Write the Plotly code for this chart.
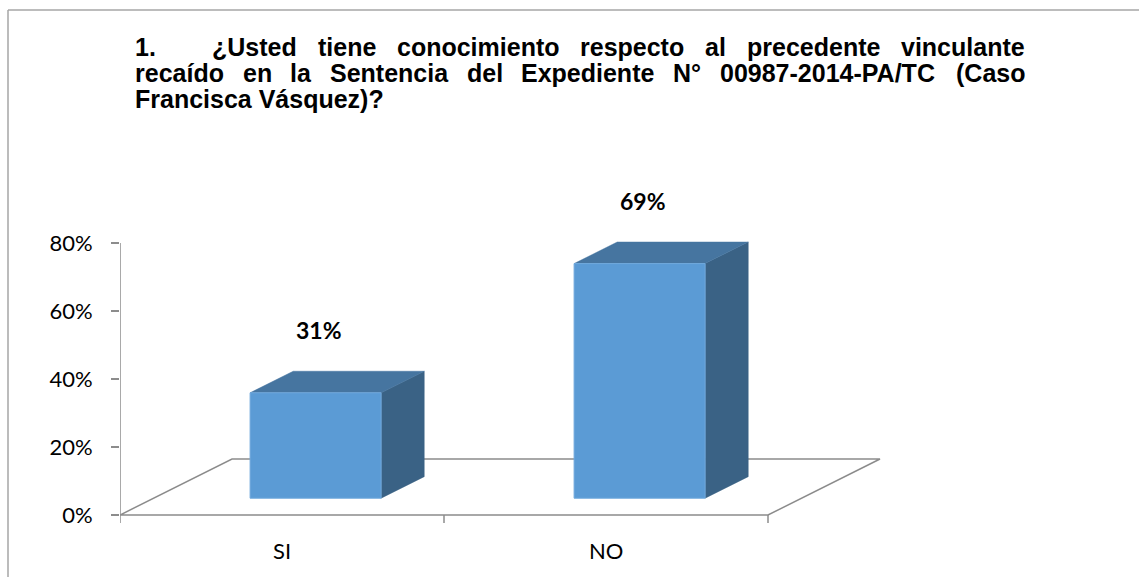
import plotly.graph_objects as go

# ---------------- data ----------------
categories = ["SI", "NO"]
values = [31, 69]                 # percent
y_ticks = [0, 20, 40, 60, 80]
y_tick_labels = ["0%", "20%", "40%", "60%", "80%"]

title_number = "1."
title_lines = [
    ["¿Usted", "tiene", "conocimiento", "respecto", "al", "precedente", "vinculante"],
    ["recaído", "en", "la", "Sentencia", "del", "Expediente", "N°", "00987-2014-PA/TC", "(Caso"],
    ["Francisca Vásquez)?"],
]

# ---------------- geometry ----------------
W, H = 1139, 577
L, R, T, B = 120, 900, 230, 530
PX_PER_CAT = 324.0
PX_PER_PCT = 3.4
x_lo = -0.5
x_hi = x_lo + (R - L) / PX_PER_CAT
y_lo = -(B - 515) / PX_PER_PCT
y_hi = y_lo + (B - T) / PX_PER_PCT

DX = 112 / PX_PER_CAT      # depth offset in category units
DY = 56 / PX_PER_PCT       # depth offset in percent units
d0, d1 = 0.30, 0.685       # bar depth span
BAR_W = 131 / PX_PER_CAT

TITLE_SIZE = 25
TITLE_LEFT = 133
TITLE_TAB = 210
TITLE_RIGHT = 1023
TITLE_Y = [47, 73, 99]

def pxx(x):
    return (x - L) / (R - L)

def pxy(y):
    return (B - y) / (B - T)

# Arial/Liberation Sans Bold advance widths (1/1000 em)
AW = {" ": 278, "(": 333, ")": 333, "-": 333, ".": 278, "/": 278, "?": 611, "°": 400, "¿": 611,
      "A": 722, "C": 722, "E": 667, "F": 611, "N": 722, "P": 667, "S": 667, "T": 611, "U": 722, "V": 667,
      "a": 556, "c": 556, "d": 611, "e": 556, "i": 278, "l": 278, "m": 889, "n": 611, "o": 611,
      "p": 611, "q": 611, "r": 389, "s": 556, "t": 333, "u": 611, "v": 556, "x": 556, "z": 500,
      "á": 556, "í": 278}

def text_w(s, size):
    return sum(AW.get(c, 556) for c in s) * size / 1000.0

FRONT = "#5B9BD5"
TOP = "#4675A0"
SIDE = "#3A6285"
GRID = "#8C8C8C"
SANS = "Lato, Open Sans, sans-serif"
TFONT = "Liberation Sans, Arial, sans-serif"

fig = go.Figure()

# floor parallelogram
n = len(categories)
fx = [x_lo, x_lo + n, x_lo + n + DX, x_lo + DX, x_lo]
fy = [0, 0, DY, DY, 0]
fig.add_trace(go.Scatter(x=fx, y=fy, mode="lines", line=dict(color=GRID, width=1.5),
                         hoverinfo="skip", showlegend=False))

# y axis line
fig.add_trace(go.Scatter(x=[x_lo, x_lo], y=[0, y_ticks[-1]], mode="lines",
                         line=dict(color=GRID, width=1.5), hoverinfo="skip", showlegend=False))

# category boundary ticks
tick_len = 8 / PX_PER_PCT
bx, by = [], []
for k in range(n + 1):
    b = x_lo + k
    bx += [b, b, None]
    by += [0, -tick_len, None]
fig.add_trace(go.Scatter(x=bx, y=by, mode="lines", line=dict(color=GRID, width=1.5),
                         hoverinfo="skip", showlegend=False))

# 3D bars
ddx = (d1 - d0) * DX
ddy = (d1 - d0) * DY
for i, v in enumerate(values):
    cx = i + d0 * DX
    xl, xr = cx - BAR_W / 2, cx + BAR_W / 2
    yb, yt = d0 * DY, v + d0 * DY
    fig.add_trace(go.Scatter(x=[xr, xr, xr + ddx, xr + ddx, xr], y=[yb, yt, yt + ddy, yb + ddy, yb],
                             fill="toself", fillcolor=SIDE, mode="lines",
                             line=dict(color=SIDE, width=0.5), hoverinfo="skip", showlegend=False))
    fig.add_trace(go.Scatter(x=[xl, xr, xr + ddx, xl + ddx, xl], y=[yt, yt, yt + ddy, yt + ddy, yt],
                             fill="toself", fillcolor=TOP, mode="lines",
                             line=dict(color=TOP, width=0.5), hoverinfo="skip", showlegend=False))
    fig.add_trace(go.Scatter(x=[xl, xr, xr, xl, xl], y=[yb, yb, yt, yt, yb],
                             fill="toself", fillcolor=FRONT, mode="lines",
                             line=dict(color="#6FA8DC", width=1), hoverinfo="skip", showlegend=False))
    fig.add_annotation(x=cx + 0.012, y=yt, xref="x", yref="y", text=f"<b>{v}%</b>",
                       showarrow=False, yshift=63,
                       font=dict(family=SANS, size=23, color="#000000"))
    fig.add_annotation(x=i, y=0, xref="x", yref="y", text=categories[i], showarrow=False,
                       yshift=-35, font=dict(family=SANS, size=22, color="#000000"))

# title: justified lines
def add_word(word, x_px, y_px):
    fig.add_annotation(x=pxx(x_px), y=pxy(y_px), xref="paper", yref="paper",
                       text=f"<b>{word}</b>", showarrow=False, xanchor="left", yanchor="middle",
                       font=dict(family=TFONT, size=TITLE_SIZE, color="#000000"))

add_word(title_number, TITLE_LEFT, TITLE_Y[0])
for li, words in enumerate(title_lines):
    start = TITLE_TAB if li == 0 else TITLE_LEFT
    widths = [text_w(w, TITLE_SIZE) for w in words]
    if li < len(title_lines) - 1 and len(words) > 1:
        gap = (TITLE_RIGHT - start - sum(widths)) / (len(words) - 1)
    else:
        gap = text_w(" ", TITLE_SIZE)
    x = start
    for w, ww in zip(words, widths):
        add_word(w, x, TITLE_Y[li])
        x += ww + gap

# outer frame lines
fig.add_shape(type="line", xref="paper", yref="paper", x0=pxx(8), y0=pxy(10), x1=pxx(W), y1=pxy(10),
              line=dict(color="#A6A6A6", width=1.5))
fig.add_shape(type="line", xref="paper", yref="paper", x0=pxx(8), y0=pxy(10), x1=pxx(8), y1=pxy(H),
              line=dict(color="#A6A6A6", width=1.5))

fig.update_layout(
    width=W, height=H, autosize=False,
    margin=dict(l=L, r=W - R, t=T, b=H - B),
    paper_bgcolor="white", plot_bgcolor="white",
    showlegend=False,
    xaxis=dict(range=[x_lo, x_hi], showgrid=False, zeroline=False, showline=False,
               showticklabels=False, ticks=""),
    yaxis=dict(range=[y_lo, y_hi], showgrid=False, zeroline=False, showline=False,
               tickvals=y_ticks, ticktext=y_tick_labels, ticks="outside", ticklen=8,
               tickcolor=GRID, tickwidth=1.5, ticklabelstandoff=14,
               tickfont=dict(family=SANS, size=22, color="#000000")),
)

fig.write_html("out.html")
